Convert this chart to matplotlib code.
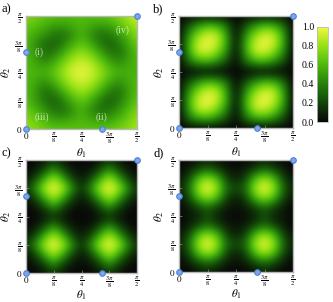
import numpy as np
import matplotlib
matplotlib.use("Agg")
import matplotlib.pyplot as plt
from matplotlib.colors import LinearSegmentedColormap

plt.rcParams['font.family'] = ['Liberation Serif', 'DejaVu Serif']
plt.rcParams['mathtext.fontset'] = 'stix'

# ---------------- data (13x13 samples, theta from 0 to pi/2, rows bottom->top) -------------
grid_a = [
    [.80, .76, .70, .66, .66, .65, .64, .65, .66, .67, .71, .77, .85],
    [.76, .68, .60, .50, .50, .54, .60, .54, .50, .50, .60, .69, .80],
    [.70, .60, .47, .37, .34, .45, .58, .45, .34, .37, .47, .61, .74],
    [.62, .50, .37, .28, .40, .56, .66, .56, .40, .28, .37, .52, .66],
    [.62, .50, .34, .40, .56, .72, .82, .72, .56, .40, .34, .50, .62],
    [.61, .54, .45, .56, .72, .88, .93, .88, .72, .56, .45, .54, .61],
    [.60, .60, .58, .66, .82, .93, .97, .93, .82, .66, .58, .58, .58],
    [.61, .54, .45, .56, .72, .88, .93, .88, .72, .56, .45, .53, .59],
    [.62, .48, .34, .40, .56, .72, .82, .72, .56, .40, .34, .48, .62],
    [.60, .46, .34, .28, .40, .56, .66, .56, .40, .28, .37, .52, .68],
    [.62, .54, .45, .37, .34, .45, .58, .45, .34, .37, .48, .62, .76],
    [.68, .64, .58, .50, .50, .54, .60, .54, .50, .51, .62, .74, .84],
    [.74, .70, .66, .64, .62, .62, .62, .63, .64, .67, .74, .84, .93],
]

grid_b = [
    [0, 0, 0, 0, 0, 0, 0, 0, 0, 0, 0, 0, 0],
    [0, .32, .50, .55, .42, .22, 0, .32, .50, .55, .42, .22, 0],
    [0, .50, .88, .92, .75, .42, 0, .50, .88, .92, .75, .42, 0],
    [0, .55, .92, 1.0, .92, .55, 0, .55, .92, 1.0, .92, .55, 0],
    [0, .42, .75, .92, .88, .50, 0, .42, .75, .92, .88, .50, 0],
    [0, .22, .42, .55, .50, .32, 0, .22, .42, .55, .50, .32, 0],
    [0, 0, 0, 0, 0, 0, 0, 0, 0, 0, 0, 0, 0],
    [0, .32, .50, .55, .42, .22, 0, .32, .50, .55, .42, .22, 0],
    [0, .50, .88, .92, .75, .42, 0, .50, .88, .92, .75, .42, 0],
    [0, .55, .92, 1.0, .92, .55, 0, .55, .92, 1.0, .92, .55, 0],
    [0, .42, .75, .92, .88, .50, 0, .42, .75, .92, .88, .50, 0],
    [0, .22, .42, .55, .50, .32, 0, .22, .42, .55, .50, .32, 0],
    [0, 0, 0, 0, 0, 0, 0, 0, 0, 0, 0, 0, 0],
]

grid_c = [
    [0, 0, .05, .15, .05, 0, 0, 0, .05, .15, .05, 0, 0],
    [0, .05, .20, .45, .20, .05, .02, .05, .20, .45, .20, .05, 0],
    [.05, .20, .55, .85, .55, .20, .06, .20, .55, .85, .55, .20, .05],
    [.15, .45, .85, 1.0, .85, .45, .12, .45, .85, 1.0, .85, .45, .15],
    [.05, .20, .55, .85, .55, .20, .06, .20, .55, .85, .55, .20, .05],
    [0, .05, .20, .45, .20, .05, .02, .05, .20, .45, .20, .05, 0],
    [0, 0, .05, .12, .05, 0, 0, 0, .05, .12, .05, 0, 0],
    [0, .05, .20, .45, .20, .05, .02, .05, .20, .45, .20, .05, 0],
    [.05, .20, .55, .85, .55, .20, .06, .20, .55, .85, .55, .20, .05],
    [.15, .45, .85, 1.0, .85, .45, .12, .45, .85, 1.0, .85, .45, .15],
    [.05, .20, .55, .85, .55, .20, .06, .20, .55, .85, .55, .20, .05],
    [0, .05, .20, .45, .20, .05, .02, .05, .20, .45, .20, .05, 0],
    [0, 0, .05, .15, .05, 0, 0, 0, .05, .15, .05, 0, 0],
]

grid_d = [
    [0, 0, .04, .10, .04, 0, 0, 0, .04, .10, .04, 0, 0],
    [0, .07, .20, .32, .20, .07, .03, .07, .20, .32, .20, .07, 0],
    [.04, .20, .62, .82, .62, .20, .07, .20, .62, .82, .62, .20, .04],
    [.08, .30, .82, 1.0, .82, .32, .22, .32, .82, 1.0, .82, .30, .08],
    [.04, .20, .62, .82, .62, .20, .07, .20, .62, .82, .62, .20, .04],
    [0, .07, .20, .34, .20, .07, .03, .07, .20, .34, .20, .07, 0],
    [0, .04, .08, .22, .08, .03, 0, .03, .08, .22, .08, .04, 0],
    [0, .07, .20, .34, .20, .07, .03, .07, .20, .34, .20, .07, 0],
    [.04, .20, .62, .82, .62, .20, .07, .20, .62, .82, .62, .20, .04],
    [.08, .30, .82, 1.0, .82, .32, .22, .32, .82, 1.0, .82, .30, .08],
    [.04, .20, .62, .82, .62, .20, .07, .20, .62, .82, .62, .20, .04],
    [0, .07, .20, .32, .20, .07, .03, .07, .20, .32, .20, .07, 0],
    [0, 0, .04, .10, .04, 0, 0, 0, .04, .10, .04, 0, 0],
]

points_t1 = [0, 0, 1.07, np.pi / 2]
points_t2 = [0, 1.07, 0, np.pi / 2]
point_labels = ["(i)", "(ii)", "(iii)", "(iv)"]
point_label_x = [0.19, 1.07, 0.22, 1.37]
point_label_y = [1.07, 0.17, 0.17, 1.37]

tick_vals = [0, np.pi / 8, np.pi / 4, 3 * np.pi / 8, np.pi / 2]
tick_labels = [r"$0$", r"$\frac{\pi}{8}$", r"$\frac{\pi}{4}$", r"$\frac{3\pi}{8}$", r"$\frac{\pi}{2}$"]
cbar_ticks = [0.0, 0.2, 0.4, 0.6, 0.8, 1.0]
panel_names = ["a)", "b)", "c)", "d)"]

# ---------------- style ----------------
cmap = LinearSegmentedColormap.from_list("avocado", [
    (0.0, (0.03, 0.03, 0.03)),
    (0.2, (0.07, 0.27, 0.03)),
    (0.4, (0.15, 0.50, 0.04)),
    (0.6, (0.30, 0.72, 0.05)),
    (0.8, (0.58, 0.88, 0.08)),
    (1.0, (0.95, 0.97, 0.25)),
])

W, H = 333, 302
fig = plt.figure(figsize=(W / 100, H / 100), dpi=100)

def px_axes(l, r, t, b):
    return fig.add_axes([l / W, (H - b) / H, (r - l) / W, (b - t) / H])

boxes = [(26, 137, 16, 129), (179, 293, 16, 128), (26, 137, 160, 273), (179, 293, 160, 272)]
grids = [grid_a, grid_b, grid_c, grid_d]
label_pos = [(1, 3), (153, 3), (1, 147), (153, 147)]
xlab_px = [24, 24, 22, 22]

h = np.pi / 48
frame_col = "#b8b8b8"
for k in range(4):
    l, r, t, b = boxes[k]
    ax = px_axes(l, r, t, b)
    ax.imshow(np.array(grids[k]), cmap=cmap, vmin=0, vmax=1, origin="lower",
              extent=[-h, np.pi / 2 + h, -h, np.pi / 2 + h], interpolation="bicubic",
              aspect="auto")
    ax.set_xlim(0, np.pi / 2)
    ax.set_ylim(0, np.pi / 2)
    ax.set_xticks(tick_vals)
    ax.set_xticklabels(tick_labels, fontsize=6.5)
    ax.set_yticks(tick_vals)
    ax.set_yticklabels(tick_labels, fontsize=6.5)
    ax.tick_params(direction="in", length=2, width=0.5, color="#888888")
    ax.tick_params(axis="x", pad=1.5)
    ax.tick_params(axis="y", pad=2.5)
    for s in ax.spines.values():
        s.set_color(frame_col)
        s.set_linewidth(1.0)
    ax.set_xlabel(r"$\theta_1$", fontsize=8)
    ax.xaxis.set_label_coords(0.5, -xlab_px[k] / (b - t))
    ax.xaxis.label.set_va("center")
    ax.set_ylabel(r"$\theta_2$", fontsize=8)
    ax.yaxis.set_label_coords(-20 / (r - l), 0.5)
    ax.yaxis.label.set_va("center")
    ax.plot(points_t1, points_t2, "o", ms=4, mfc="#7ea6ea", mec="#4b7fd6", mew=0.8,
            clip_on=False, zorder=5)
    if k == 0:
        for lx, ly, tx in zip(point_label_x, point_label_y, point_labels):
            ax.text(lx, ly, tx, color="white", alpha=0.65, fontsize=7, ha="center", va="center")
    fig.text(label_pos[k][0] / W, 1 - label_pos[k][1] / H, panel_names[k], fontsize=9,
             ha="left", va="top")

cax = px_axes(317, 328, 27, 122)
sm = matplotlib.cm.ScalarMappable(cmap=cmap, norm=matplotlib.colors.Normalize(0, 1))
cb = fig.colorbar(sm, cax=cax, ticks=cbar_ticks)
cb.ax.yaxis.set_ticks_position("left")
cb.ax.set_yticklabels(["%.1f" % v for v in cbar_ticks], fontsize=7)
cb.ax.tick_params(length=0, pad=2)
cb.outline.set_edgecolor(frame_col)
cb.outline.set_linewidth(0.6)

fig.savefig("out.png", dpi=100)
